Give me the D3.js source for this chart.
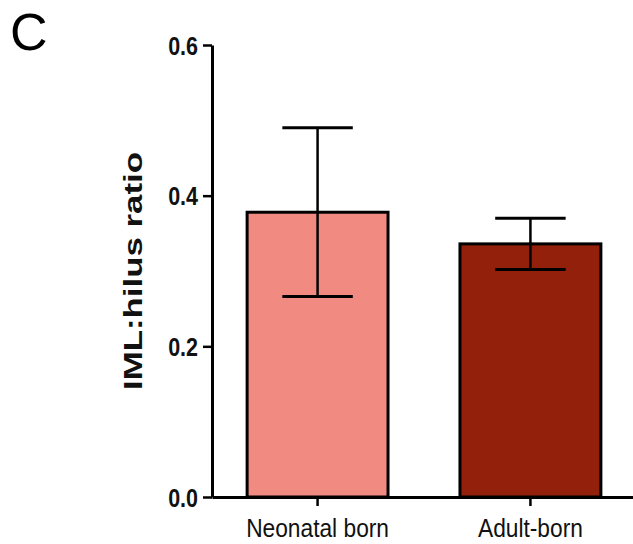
<!DOCTYPE html>
<html>
<head>
<meta charset="utf-8">
<script src="https://cdn.jsdelivr.net/npm/d3@7"></script>
<style>
  body { margin: 0; background: #fff; }
  text { font-family: Arial, "Liberation Sans", sans-serif; }
</style>
</head>
<body>
<div class="canvas"></div>
<script>
// data
const groups = ['Neonatal born', 'Adult-born'];
const means = [0.378, 0.336];
const sems = [0.112, 0.034];
const yTicks = [0.0, 0.2, 0.4, 0.6];
const barColors = ['#f18a80', '#93200b'];

const dims = { width: 633, height: 544 };

const svg = d3.select('.canvas')
    .append('svg')
    .attr('width', dims.width)
    .attr('height', dims.height)

const data = groups.map((g, i) => ({ name: g, mean: means[i], sem: sems[i], color: barColors[i] }));

const y = d3.scaleLinear()
    .domain([0, 0.6])
    .range([497, 45])

const x = d3.scaleBand()
    .domain(groups)
    .range([212, 636])
    .paddingInner(0.338)
    .paddingOuter(0.165)

// bars
svg.selectAll('rect.bar')
    .data(data)
    .enter()
    .append('rect')
        .attr('class', 'bar')
        .attr('x', d => x(d.name))
        .attr('y', d => y(d.mean))
        .attr('width', x.bandwidth())
        .attr('height', d => y(0) - y(d.mean))
        .attr('fill', d => d.color)
        .attr('stroke', '#000')
        .attr('stroke-width', 3)

// error bars
const err = svg.selectAll('g.err')
    .data(data)
    .enter()
    .append('g')
        .attr('class', 'err')
        .attr('stroke', '#000')
        .attr('stroke-width', 2.5)

err.append('line')
    .attr('x1', d => x(d.name) + x.bandwidth() / 2)
    .attr('x2', d => x(d.name) + x.bandwidth() / 2)
    .attr('y1', d => y(d.mean - d.sem))
    .attr('y2', d => y(d.mean + d.sem))

err.selectAll('line.cap')
    .data(d => [d.mean - d.sem, d.mean + d.sem].map(v => ({ v, name: d.name })))
    .enter()
    .append('line')
        .attr('class', 'cap')
        .attr('stroke-width', 3)
        .attr('x1', d => x(d.name) + x.bandwidth() / 4)
        .attr('x2', d => x(d.name) + x.bandwidth() * 3 / 4)
        .attr('y1', d => y(d.v))
        .attr('y2', d => y(d.v))

// axes
const yAxis = d3.axisLeft(y)
    .tickValues(yTicks)
    .tickFormat(d3.format('.1f'))
    .tickSize(9)
    .tickSizeOuter(0)

const xAxis = d3.axisBottom(x)
    .tickSize(9)
    .tickSizeOuter(0)

const gx = svg.append('g')
    .attr('transform', `translate(0, ${y(0)})`)
    .call(xAxis)

gx.selectAll('text')
    .attr('y', 40)
    .attr('dy', 0)
    .attr('fill', '#111')
    .attr('font-size', 25)
    .attr('transform', 'scale(0.91,1)')

const gy = svg.append('g')
    .attr('transform', `translate(212, 0)`)
    .call(yAxis)

gy.selectAll('text')
    .attr('x', -14 / 0.86)
    .attr('dy', '0.36em')
    .attr('fill', '#111')
    .attr('font-size', 25)
    .attr('font-weight', 'bold')
    .attr('transform', 'scale(0.86,1)')

svg.selectAll('.domain, .tick line')
    .attr('stroke', '#000')
    .attr('stroke-width', 3)

svg.selectAll('.tick line')
    .attr('stroke-width', 2.5)

// y title
svg.append('text')
    .attr('transform', 'translate(142, 271) rotate(-90)')
    .attr('text-anchor', 'middle')
    .attr('font-size', 26)
    .attr('font-weight', 'bold')
    .attr('fill', '#111')
    .attr('textLength', 238)
    .attr('lengthAdjust', 'spacingAndGlyphs')
    .text('IML:hilus ratio')

// panel letter
svg.append('text')
    .attr('x', 10)
    .attr('y', 50)
    .attr('font-size', 52)
    .attr('fill', '#000')
    .text('C')
</script>
</body>
</html>
